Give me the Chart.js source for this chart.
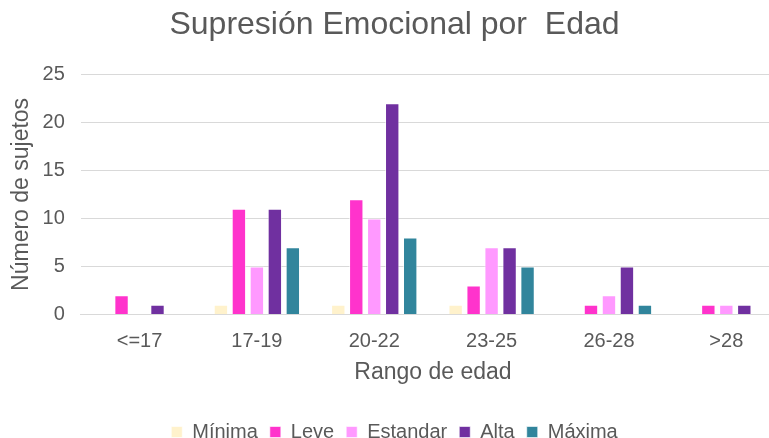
<!DOCTYPE html>
<html>
<head>
<meta charset="utf-8">
<script src="https://cdn.jsdelivr.net/npm/chart.js@4.4.0/dist/chart.umd.min.js"></script>
<style>
html,body{margin:0;padding:0;background:#fff;overflow:hidden;}
#wrap{width:790px;height:438px;position:relative;}
</style>
</head>
<body>
<div id="wrap"><canvas id="c"></canvas></div>
<script>
const categories = ["<=17", "17-19", "20-22", "23-25", "26-28", ">28"];
const minima   = [0, 1, 1, 1, 0, 0];
const leve     = [2, 11, 12, 3, 1, 1];
const estandar = [0, 5, 10, 7, 2, 1];
const alta     = [1, 11, 22, 7, 5, 1];
const maxima   = [0, 7, 8, 5, 1, 0];
const yTicks = [0, 5, 10, 15, 20, 25];

const FONT = "'Liberation Sans', Arial, sans-serif";
const GREY = "#595959";

function ds(label, data, color) {
  return {
    label, data, backgroundColor: color,
    borderColor: "rgba(255,255,255,0.6)", borderWidth: 1,
    categoryPercentage: 0.766, barPercentage: 0.8
  };
}

new Chart(document.getElementById("c"), {
  type: "bar",
  data: {
    labels: categories,
    datasets: [
      ds("Mínima", minima, "#FFF2CC"),
      ds("Leve", leve, "#FF33CC"),
      ds("Estandar", estandar, "#FF99FF"),
      ds("Alta", alta, "#7030A0"),
      ds("Máxima", maxima, "#31859C")
    ]
  },
  options: {
    responsive: true,
    maintainAspectRatio: false,
    animation: false,
    layout: { padding: { left: 4, right: 5, top: 6, bottom: -14 } },
    plugins: {
      title: {
        display: true,
        text: "Supresión Emocional por  Edad",
        color: GREY,
        font: { family: FONT, size: 32, weight: "normal" },
        padding: { top: 0, bottom: 30 }
      },
      legend: {
        position: "bottom",
        labels: {
          color: GREY,
          font: { family: FONT, size: 20 },
          boxWidth: 11, boxHeight: 11,
          padding: 12
        }
      },
      tooltip: { enabled: false }
    },
    scales: {
      x: {
        grid: { display: false, drawTicks: false },
        border: { color: "#d9d9d9", width: 1 },
        ticks: { color: GREY, font: { family: FONT, size: 20 }, padding: 15 },
        title: {
          display: true, text: "Rango de edad", color: GREY,
          font: { family: FONT, size: 23 },
          padding: { top: -10, bottom: 24 }
        }
      },
      y: {
        min: 0, max: 25,
        afterBuildTicks: (axis) => { axis.ticks = yTicks.map(v => ({ value: v })); },
        grid: { color: "#d9d9d9", drawTicks: false },
        border: { display: false },
        ticks: { color: GREY, font: { family: FONT, size: 20 }, padding: 16 },
        title: {
          display: true, text: "Número de sujetos", color: GREY,
          font: { family: FONT, size: 23 },
          padding: { top: 4, bottom: -9 }
        }
      }
    }
  }
});
</script>
</body>
</html>
